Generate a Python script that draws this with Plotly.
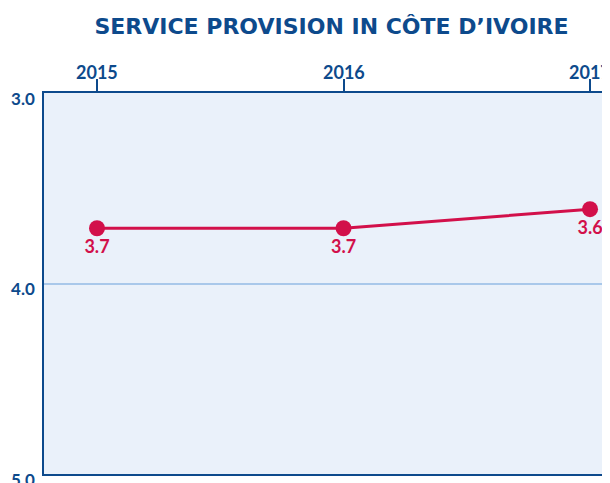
import plotly.graph_objects as go

years = [2015, 2016, 2017]
values = [3.71, 3.71, 3.61]
labels = ["3.7", "3.7", "3.6"]
y_ticks = [3.0, 4.0, 5.0]
y_tick_text = ["3.0", "4.0", "5.0"]

blue = "#0d4a8c"
red = "#d2104a"

fig = go.Figure()
fig.add_trace(go.Scatter(
    x=years, y=values, mode="lines+markers+text",
    text=labels, textposition="bottom center",
    textfont=dict(family="Lato", size=18, color=red, weight="bold"),
    line=dict(color=red, width=3),
    marker=dict(color=red, size=16),
    cliponaxis=False, showlegend=False,
))

# year labels above the top axis ticks, positioned by the x scale
for yr in years:
    fig.add_annotation(
        x=yr, y=1, xref="x", yref="paper", xanchor="center", yanchor="bottom",
        yshift=8, showarrow=False, text=f"<b>{yr}</b>",
        font=dict(family="Lato", size=18, color=blue),
    )

# page body has an 8px margin; the figure is sized so its plot area lands where the reference has it
fig.update_layout(
    width=602, height=475,
    margin=dict(l=36, r=0, t=85, b=9),
    paper_bgcolor="white", plot_bgcolor="#eaf1fa",
    title=dict(text="<b>SERVICE PROVISION IN CÔTE D’IVOIRE</b>", x=0.5374, xanchor="center",
               y=0.962, yanchor="middle",
               font=dict(family="DejaVu Sans", size=22, color=blue)),
)
fig.update_xaxes(
    side="top", range=[2014.785, 2017.081], automargin=False,
    tickvals=years, showticklabels=False,
    ticks="outside", ticklen=12, tickcolor=blue, tickwidth=1.5,
    showgrid=False, showline=True, linecolor=blue, linewidth=1.5, mirror=True,
    zeroline=False,
)
fig.update_yaxes(
    range=[5, 3], tickvals=y_ticks, ticktext=y_tick_text, automargin=False,
    tickfont=dict(family="Lato", size=17, color=blue, weight="bold"),
    ticks="", ticklabelstandoff=4, ticklabelshift=-6, ticklabeloverflow="allow",
    showgrid=True, gridcolor="#a9c8ea", gridwidth=1.5,
    showline=True, linecolor=blue, linewidth=1.5, mirror=True,
    zeroline=False,
)
fig.write_html("out.html")
